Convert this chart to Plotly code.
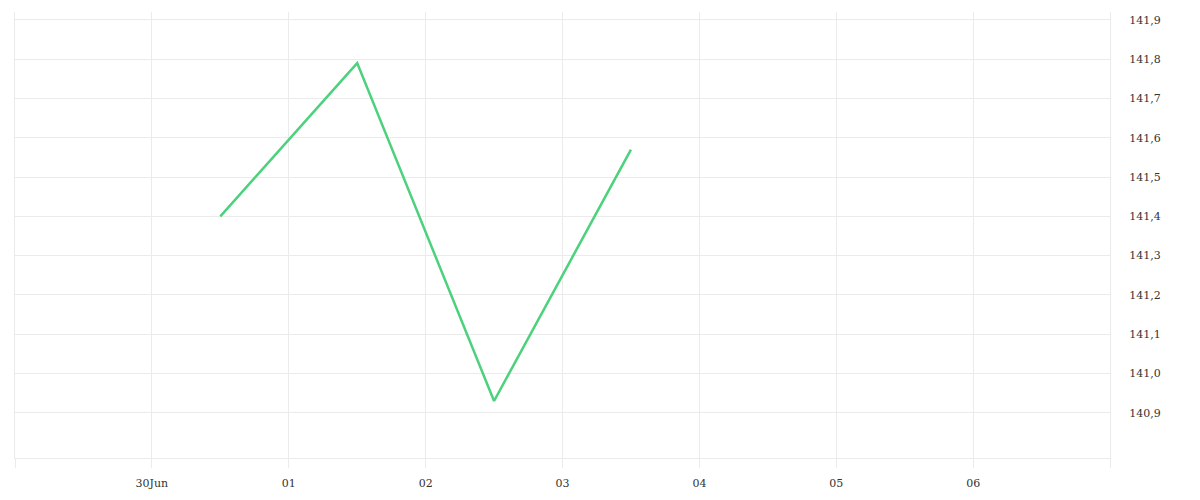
import plotly.graph_objects as go

dates = ["2024-06-30 12:00", "2024-07-01 12:00", "2024-07-02 12:00", "2024-07-03 12:00"]
values = [141.40, 141.79, 140.93, 141.57]

x_tickvals = ["2024-06-29", "2024-06-30", "2024-07-01", "2024-07-02", "2024-07-03",
              "2024-07-04", "2024-07-05", "2024-07-06", "2024-07-07"]
x_ticktext = ["", "30Jun", "01", "02", "03", "04", "05", "06", ""]
y_tickvals = [140.9, 141.0, 141.1, 141.2, 141.3, 141.4, 141.5, 141.6, 141.7, 141.8, 141.9]

grid = "#ebebeb"

fig = go.Figure(go.Scatter(x=dates, y=values, mode="lines",
                           line=dict(color="#4cd17c", width=2.5), hoverinfo="skip"))

fig.update_layout(
    width=1200, height=500,
    margin=dict(l=7, r=98, t=4, b=50, autoexpand=False),
    paper_bgcolor="white", plot_bgcolor="white",
    separators=",.",
    showlegend=False,
    font=dict(family="DejaVu Serif", size=11, color="#333333"),
    xaxis=dict(type="date", range=["2024-06-29", "2024-07-07"],
               tickmode="array", tickvals=x_tickvals, ticktext=x_ticktext,
               showgrid=True, gridcolor=grid, gridwidth=1,
               ticks="outside", ticklen=9, tickcolor=grid,
               showline=True, linecolor=grid, linewidth=1,
               zeroline=False, fixedrange=True, ticklabelstandoff=6),
    yaxis=dict(side="right", range=[140.785, 141.92],
               tickmode="array", tickvals=y_tickvals, tickformat=".1f",
               showgrid=True, gridcolor=grid, gridwidth=1,
               ticks="", showline=True, mirror=True, linecolor=grid, linewidth=1,
               zeroline=False, ticklabelstandoff=16),
)

fig.write_html("out.html")
